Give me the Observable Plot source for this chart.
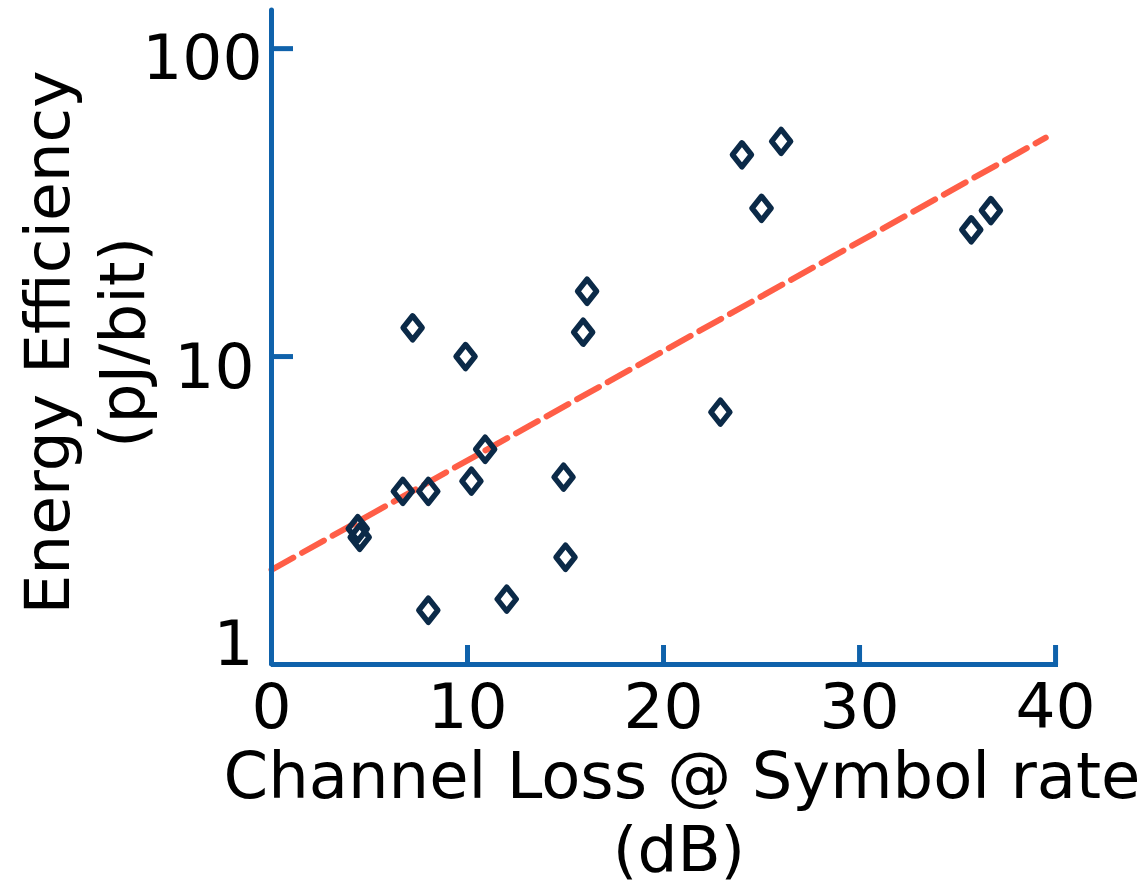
<!DOCTYPE html>
<html><head><meta charset="utf-8">
<script src="https://cdn.jsdelivr.net/npm/d3@7"></script>
<script src="https://cdn.jsdelivr.net/npm/@observablehq/plot@0.6"></script>
<style>body{margin:0;background:#fff;}</style>
</head><body><div id="chart"></div>
<script>
// Data
const channelLoss = [7.2, 9.9, 16.1, 15.9, 10.9, 6.7, 8.0, 10.2, 14.9, 4.4, 4.5, 15.0, 12.0, 8.0, 24.0, 26.0, 25.0, 22.9, 35.7, 36.7];
const energyEff   = [12.4, 10.0, 16.3, 12.0, 5.0, 3.65, 3.65, 3.94, 4.06, 2.76, 2.59, 2.23, 1.63, 1.5, 45.2, 50.0, 30.3, 6.6, 25.8, 29.8];
const fitLoss = [0, 39.5];
const fitEff  = [2.03, 51.4];
const xTicks = [0, 10, 20, 30, 40];
const yTicks = [1, 10, 100];
const xTitle = ["Channel Loss @ Symbol rate", "(dB)"];
const yTitle = ["Energy Efficiency", "(pJ/bit)"];

const points = channelLoss.map((x, i) => ({x, y: energyEff[i]}));
const fit = fitLoss.map((x, i) => ({x, y: fitEff[i]}));

const axisBlue = "#0f62ab";
const navy = "#0b2a48";
const orange = "#ff5e47";

const tallDiamond = {
  draw(context, size) {
    const r = Math.sqrt(size / Math.PI);
    const w = r * 0.95, h = r * 1.2;
    context.moveTo(0, -h);
    context.lineTo(w, 0);
    context.lineTo(0, h);
    context.lineTo(-w, 0);
    context.closePath();
  }
};

const chart = Plot.plot({
  width: 1148,
  height: 889,
  marginLeft: 271,
  marginRight: 90,
  marginTop: 10,
  marginBottom: 225,
  style: {fontFamily: "DejaVu Sans", background: "white", color: "black"},
  x: {domain: [0, 40.15], axis: null},
  y: {type: "log", domain: [1, 133], axis: null},
  marks: [
    Plot.line(fit, {x: "x", y: "y", stroke: orange, strokeWidth: 6, strokeDasharray: "25,10"}),
    Plot.dot(points, {x: "x", y: "y", symbol: tallDiamond, r: 10, stroke: navy, strokeWidth: 5.5, fill: "none", strokeLinejoin: "round"}),
    // axis lines
    Plot.ruleX([0], {x: d => d, stroke: axisBlue, strokeWidth: 5, strokeLinecap: "round"}),
    Plot.ruleY([1], {y: d => d, stroke: axisBlue, strokeWidth: 5}),
    // inward ticks
    Plot.axisX(xTicks, {anchor: "top", frameAnchor: "bottom", tickSize: 20, text: null, label: null, stroke: axisBlue, strokeWidth: 5}),
    Plot.axisY(yTicks, {anchor: "right", frameAnchor: "left", tickSize: 21, text: null, label: null, stroke: axisBlue, strokeWidth: 5}),
    // tick labels
    Plot.axisX(xTicks, {anchor: "bottom", tickSize: 0, tickPadding: 19, fontSize: 63, label: null, fill: "black"}),
    Plot.axisY([100], {anchor: "left", tickSize: 0, tickPadding: 9, dy: 10, fontSize: 63, label: null, fill: "black"}),
    Plot.axisY([10], {anchor: "left", tickSize: 0, tickPadding: 17, dy: 11, fontSize: 63, label: null, fill: "black"}),
    Plot.axisY([1], {anchor: "left", tickSize: 0, tickPadding: 18, dy: -20, fontSize: 63, label: null, fill: "black"}),
    // axis titles
    Plot.text([yTitle.join("\n")], {text: d => d, frameAnchor: "left", rotate: -90, dx: -189, dy: 5, fontSize: 63, lineHeight: 1.2, textAnchor: "middle", lineAnchor: "middle", fill: "black"}),
    Plot.text([xTitle[0]], {text: d => d, frameAnchor: "bottom", lineAnchor: "top", dx: 17, dy: 88, fontSize: 64, textAnchor: "middle", fill: "black"}),
    Plot.text([xTitle[1]], {text: d => d, frameAnchor: "bottom", lineAnchor: "top", dx: 14, dy: 162, fontSize: 63, textAnchor: "middle", fill: "black"})
  ]
});
document.getElementById("chart").appendChild(chart);
</script>
</body></html>
